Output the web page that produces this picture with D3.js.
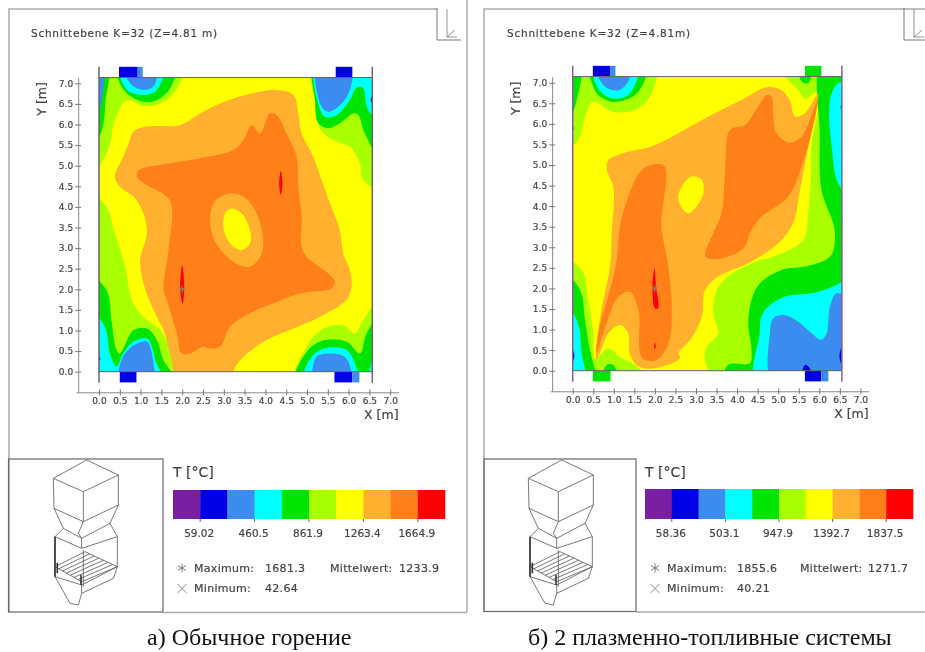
<!DOCTYPE html>
<html><head><meta charset="utf-8">
<script src="https://cdn.jsdelivr.net/npm/d3@7/dist/d3.min.js"></script>
<style>html,body{margin:0;background:#fff}svg{display:block;filter:blur(.65px)}text{font-family:"DejaVu Sans",sans-serif;fill:#444;stroke:#444;stroke-width:.2}</style>
</head><body><svg id="c" width="925" height="652"></svg>
<script>
// Legend: ten temperature bands
const bandColors=["#7b1fa2","#0000e6","#3c8cf0","#00ffff","#00e400","#a8ff00","#ffff00","#ffb02e","#ff8018","#ff0000"];
const PURPLE=0,DARK=1,BLUE=2,CYAN=3,GREEN=4,LIME=5,YELLOW=6,LIGHT=7,ORANGE=8,RED=9;
const xTicks=d3.range(0,7.01,.5), yTicks=d3.range(0,7.01,.5);
const titleA="Schnittebene K=32 (Z=4.81 m)", titleB="Schnittebene K=32 (Z=4.81m)";
const captionA="а) Обычное горение", captionB="б) 2 плазменно-топливные системы";
const legendLabelsA=["59.02","460.5","861.9","1263.4","1664.9"], legendLabelsB=["58.36","503.1","947.9","1392.7","1837.5"];
const statsA=["1681.3","1233.9","42.64"], statsB=["1855.6","1271.7","40.21"];

// Isotherm polygons in metres [x,y] — panel A
const aLime=[
[[0,7.14],[2.03,7.14],[1.83,6.8],[1.47,6.51],[1.07,6.45],[.67,6.59],[.38,6.11],[.22,5.38],[0,4.65]],
[[0,4.41],[.18,4],[.38,3.36],[.63,2.55],[.79,1.74],[1.07,1.33],[1.47,1.01],[1.71,.53],[1.95,0],[0,0]],
[[5.13,7.14],[5.19,6.59],[5.31,5.91],[5.63,5.62],[6.03,5.46],[6.27,5.06],[6.35,4.65],[6.57,4.41],[6.57,7.14]],
[[4.71,0],[4.99,.61],[5.39,1.05],[5.87,1.13],[6.15,.93],[6.35,1.25],[6.57,1.9],[6.57,0]]];
const aGreen=[
[[.42,7.14],[.5,7],[.71,6.72],[1.07,6.55],[1.39,6.59],[1.71,6.88],[1.83,7.14]],
[[0,7.14],[.22,7.14],[.16,6.6],[.08,5.9],[0,5.1]],
[[5.19,7.14],[5.19,6.59],[5.27,6.03],[5.51,5.91],[5.79,6.03],[6.11,6.27],[6.23,6.23],[6.39,5.78],[6.57,4.98],[6.57,7.14]],
[[0,2.39],[.18,1.98],[.3,1.25],[.42,.53],[.5,.44],[.83,1.01],[1.15,1.05],[1.39,.77],[1.55,.28],[1.87,0],[0,0]],
[[4.71,0],[5.03,.53],[5.43,.77],[5.95,.73],[6.27,.44],[6.43,.93],[6.57,1.54],[6.57,0]]];
const aCyan=[
[[0,1.57],[.14,1.09],[.26,.44],[.42,.12],[.58,.44],[.83,.73],[1.15,.81],[1.27,.61],[1.35,.28],[1.55,0],[0,0]],
[[4.91,0],[5.11,.36],[5.43,.57],[5.95,.53],[6.15,.2],[6.23,0]],
[[6.47,0],[6.57,.93],[6.57,0]],
[[.5,7.14],[.67,6.84],[1.07,6.72],[1.39,6.84],[1.55,7.14]],
[[5.23,7.14],[5.27,6.51],[5.43,6.19],[5.71,6.23],[6.03,6.59],[6.19,6.9],[6.35,6.88],[6.47,6.35],[6.57,6.03],[6.57,7.14]]];
const aBlue=[
[[.58,7.14],[.79,6.96],[1.07,6.84],[1.31,6.92],[1.37,7.14]],
[[5.25,7.14],[5.35,6.43],[5.51,6.31],[5.79,6.47],[6.03,6.84],[6.05,7.14]],
[[.5,0],[.54,.28],[.79,.61],[1.15,.73],[1.27,.44],[1.27,0]],
[[5.19,0],[5.23,.36],[5.63,.44],[5.95,.32],[6.03,0]],
[[0,7.14],[.05,7.14],[.05,6.5],[0,5.7]]];
const aDark=[[[0,.7],[.03,.3],[0,.1]],[[6.57,6.9],[6.53,6.6],[6.57,6.3]]];
const aLight=[[[.83,5.83],[1.15,5.95],[1.95,5.99],[2.43,6.27],[2.91,6.51],[3.55,6.72],[4.27,6.84],[4.67,6.72],[4.79,6.27],[4.87,5.78],[5.15,5.22],[5.35,4.65],[5.55,4.09],[5.79,3.44],[5.87,2.87],[6.03,2.47],[6.07,2.06],[5.95,1.74],[5.31,1.33],[4.67,1.05],[4.03,.77],[3.39,.28],[2.99,0],[1.95,0],[1.71,.44],[1.55,1.01],[1.31,1.5],[1.07,2.14],[.99,2.71],[1.15,3.36],[1.07,3.84],[.83,4.25],[.5,4.49],[.38,4.73],[.58,5.22],[.71,5.54]]];
const aOrange=[[[.95,4.89],[1.47,5.02],[2.43,5.18],[3.23,5.38],[3.47,5.62],[3.67,5.99],[3.87,5.78],[4.11,6.27],[4.27,6.23],[4.51,5.78],[4.75,5.22],[4.79,4.49],[4.87,3.76],[4.87,3.03],[4.99,2.79],[5.55,2.35],[5.67,2.18],[5.59,2.02],[4.83,1.9],[4.19,1.66],[3.55,1.38],[3.15,1.09],[2.91,.61],[2.63,.57],[2.51,.61],[2.19,.44],[1.99,.44],[1.87,.93],[1.63,1.74],[1.55,1.98],[1.67,2.95],[1.75,4],[1.63,4.25],[1.15,4.53],[.91,4.73]]];
const aInnerLight=[[[3.15,4.33],[3.47,4.25],[3.75,3.92],[3.93,3.36],[3.91,2.87],[3.63,2.55],[3.23,2.67],[2.87,3.03],[2.68,3.52],[2.75,4.09]]];
const aInnerYellow=[[[3.19,3.96],[3.43,3.84],[3.63,3.44],[3.63,3.11],[3.43,2.95],[3.19,3.07],[3,3.44],[3.03,3.84]]];
const aRed=[[[2,2.59],[2.05,2.06],[2.01,1.64],[1.95,2.06]],[[4.37,4.88],[4.41,4.57],[4.37,4.29],[4.33,4.57]]];
const aBurners=[[.48,.93,DARK,1],[.93,1.05,BLUE,1],[5.69,6.09,DARK,1],[.5,.9,DARK,0],[5.66,6.09,DARK,0],[6.09,6.26,BLUE,0]];

// panel B
const bLime=[
[[0,7.15],[2,7.15],[1.92,6.74],[1.52,6.34],[.95,6.3],[.5,6.54],[.3,6.17],[.14,5.61],[0,5.35]],
[[0,2.73],[.22,2.45],[.38,1.72],[.5,.91],[.54,.3],[.87,.54],[1.19,.3],[1.52,.14],[1.84,0],[0,0]],
[[6,6.89],[5.97,6.34],[5.81,5.53],[5.79,4.64],[5.73,3.82],[5.61,3.18],[5.08,2.85],[4.35,2.61],[3.78,2.29],[3.5,1.96],[3.42,1.39],[3.54,.91],[3.26,.58],[3.22,.26],[3.54,0],[6.55,0],[6.55,7.15],[6.05,7.15]],
[[4.96,7.15],[5.81,7.15],[6,7.03],[6,6.89],[5.65,6.62],[5.49,6.82],[5.28,7.03]]];
const bGreen=[
[[6.05,7.15],[6.01,5.77],[6.04,4.47],[6.18,3.99],[6.34,3.58],[6.38,3.18],[6.26,2.77],[5.65,2.53],[5.08,2.45],[4.55,2.12],[4.35,1.72],[4.27,1.15],[4.35,.5],[4.31,.18],[3.78,.14],[3.7,0],[6.55,0],[6.55,7.15]],
[[5.49,7.15],[5.81,7.15],[5.73,6.99],[5.57,7.03]],
[[.71,0],[.83,.14],[.99,.14],[1.11,0]],
[[.42,7.15],[.5,6.9],[.62,6.7],[.95,6.54],[1.27,6.58],[1.6,6.78],[1.8,7.15]],
[[0,7.15],[.18,7.15],[.1,6.58],[0,5.61]],
[[0,2.45],[.18,1.96],[.3,1.23],[.42,.5],[.5,.18],[.58,0],[0,0]]];
const bCyan=[
[[6.46,6.99],[6.3,6.74],[6.24,6.26],[6.3,5.45],[6.46,4.55],[6.55,4.15],[6.55,6.99]],
[[4.47,0],[4.55,.91],[4.59,1.31],[4.76,1.56],[5.16,1.8],[5.81,1.88],[6.22,2],[6.55,2.2],[6.55,0]],
[[.5,7.15],[.62,6.86],[.95,6.62],[1.35,6.7],[1.6,7.15]],
[[0,1.72],[.1,1.23],[.22,.42],[.3,0],[0,0]]];
const bBlue=[
[[.54,7.15],[.79,6.9],[1.11,6.82],[1.35,7.03],[1.39,7.15]],
[[4.88,0],[4.8,.91],[4.88,1.27],[5.16,1.35],[5.49,1.19],[5.81,.91],[6.05,.75],[6.18,.91],[6.26,1.56],[6.42,1.88],[6.55,1.64],[6.55,0]]];
const bDark=[[[6.55,1.1],[6.49,.34],[6.55,0]],[[5.57,0],[5.65,.14],[5.77,.06],[5.81,0]],[[0,.8],[.04,.4],[0,0]],[[6.55,6.8],[6.52,6.4],[6.55,6.1]],[[0,6.3],[.02,5.9],[0,5.5]]];
const bLight=[[[.87,5.12],[1.27,5.3],[1.92,5.45],[2.57,5.77],[3.38,6.22],[4.11,6.58],[4.72,6.89],[5.08,6.82],[5.28,6.58],[5.41,6.18],[5.65,6.26],[5.97,6.74],[5.89,6.26],[5.73,5.45],[5.53,4.39],[5.36,3.58],[5,3.1],[4.27,2.61],[3.54,2.29],[3.22,1.96],[3.14,1.31],[2.89,.79],[2.57,.42],[2.61,.3],[2,.06],[1.6,.1],[1.39,.42],[1.35,.91],[1.15,1.11],[.87,.91],[.58,.26],[.58,.58],[.7,1.47],[.91,2.53],[.95,3.34],[.99,4.47],[.83,4.88]]];
const bOrange=[
[[.58,.42],[.79,1.07],[1.11,1.8],[1.39,1.92],[1.6,1.47],[1.64,.42],[1.76,.26],[2.04,.26],[2.33,.66],[2.41,1.31],[2.33,2.53],[2.16,3.5],[2.24,4.96],[2,5.02],[1.68,4.88],[1.35,4.23],[1.15,3.5],[1.07,2.69],[.95,2.12],[.79,1.56],[.62,.91]],
[[4.72,6.7],[4.84,6.66],[4.88,6.18],[4.96,5.77],[5.28,5.54],[5.57,5.69],[5.96,6.58],[5.81,5.77],[5.57,4.96],[5.24,4.23],[4.59,3.74],[4.35,3.42],[4.15,2.97],[3.62,2.73],[3.23,2.77],[3.42,3.34],[3.62,3.82],[3.7,4.72],[3.78,5.77],[3.87,5.89],[4.19,5.97],[4.51,6.42]]];
const bInnerYellow=[[[2.89,4.72],[3.14,4.64],[3.18,4.31],[3.01,3.99],[2.81,3.82],[2.57,4.15],[2.65,4.47]]];
const bRed=[[[1.99,2.49],[2.03,2.04],[2.08,1.52],[2,1.52],[1.94,2.04]],[[2,.68],[2.02,.6],[2,.52],[1.98,.6]]];
const bBurners=[[.49,.92,DARK,1],[.92,1.04,BLUE,1],[5.65,6.05,GREEN,1],[.49,.92,GREEN,0],[5.65,6.05,DARK,0],[6.05,6.22,BLUE,0]];

// furnace wire drawing, abstract unit outline
const furnaceEdges=[
[[160,145],[260,90],[355,135],[250,185],[160,145]],
[[160,145],[162,235],[250,275],[355,225],[355,135]],[[250,185],[250,275]],
[[162,235],[190,295],[165,320],[165,440]],[[355,225],[330,280],[352,320],[352,410]],
[[190,295],[245,325],[330,280]],[[250,275],[235,310],[245,325],[245,355]],
[[165,320],[245,355],[352,320]],[[250,360],[250,470]],
[[165,410],[255,365],[352,410],[245,455],[165,410]],
[[165,440],[245,465],[352,410]],
[[165,440],[210,520],[235,525],[245,490],[340,445],[352,410]],[[245,465],[245,490]]];
const furnaceHeavy=[[[165,320],[165,440]],[[172,398],[172,430]],[[243,435],[243,465]]];
const grateA=[[165,410],[255,365]], grateB=[[245,455],[352,410]];

const svg=d3.select("#c");
const line=d3.line().curve(d3.curveCatmullRomClosed.alpha(.5));
let clipN=0;

function panel(o){
  const g=svg.append("g");
  const x=d3.scaleLinear().domain([-.55,7.2]).range([o.x0-.55*o.ppx,o.x0+7.2*o.ppx]);
  const y=d3.scaleLinear().domain([-.5,o.ymax]).range([o.y0+.5*o.ppy,o.y0-o.ymax*o.ppy]);
  // frames
  const fr=g.append("g").attr("fill","none").attr("stroke","#aaa");
  fr.append("path").attr("d",o.frame).attr("stroke-width",1.5);
  fr.append("rect").attr("x",o.inset[0]).attr("y",o.inset[1]).attr("width",o.inset[2]).attr("height",o.inset[3]).attr("stroke","#666").attr("stroke-width",1.2);
  fr.append("path").attr("d",`M${o.inset[0]+o.inset[2]},${o.inset[1]+o.inset[3]+.5}H${o.frameEnd}`).attr("stroke","#aaa").attr("stroke-width",1.5);
  // corner icon
  const ci=g.append("g").attr("transform",`translate(${o.icon},0)`).attr("fill","none").attr("stroke","#777");
  ci.append("path").attr("d","M0,8V40H24");
  ci.append("path").attr("d","M10,9V37L18,30M10,37H20").attr("stroke-width",.8);
  // title
  g.append("text").attr("x",o.titleX).attr("y",37).attr("font-size",10.5).attr("textLength",o.titleW).text(o.title);
  // field
  const xm=o.xmax,ym=o.ymax;
  const id="clip"+(clipN++);
  g.append("clipPath").attr("id",id).append("rect").attr("x",x(0)).attr("y",y(ym)).attr("width",x(xm)-x(0)).attr("height",y(0)-y(ym));
  const f=g.append("g").attr("clip-path",`url(#${id})`);
  f.append("rect").attr("x",x(0)).attr("y",y(ym)).attr("width",x(xm)-x(0)).attr("height",y(0)-y(ym)).attr("fill",bandColors[YELLOW]);
  const push=p=>[p[0]<=0?-.3:p[0]>=xm?xm+.3:p[0], p[1]<=0?-.3:p[1]>=ym?ym+.3:p[1]];
  o.layers.forEach(([band,polys])=>{
    f.selectAll(null).data(polys).join("path")
      .attr("d",d=>line(d.map(push).map(p=>[x(p[0]),y(p[1])])))
      .attr("fill",bandColors[band]);
  });
  // burners
  g.selectAll(null).data(o.burners).join("rect")
    .attr("x",d=>x(d[0])).attr("width",d=>x(d[1])-x(d[0]))
    .attr("y",d=>d[3]?y(ym+.26):y(0)).attr("height",d=>Math.abs(y(ym+.26)-y(ym)))
    .attr("fill",d=>bandColors[d[2]]);
  // outline
  const ol=g.append("g").attr("stroke","#666").attr("fill","none");
  ol.append("path").attr("d",`M${x(0)},${y(ym)}H${x(xm)}M${x(0)},${y(0)}H${x(xm)}`);
  ol.append("path").attr("d",`M${x(0)},${y(ym+.26)}V${y(-.27)}M${x(xm)},${y(ym+.26)}V${y(-.27)}`).attr("stroke",o.sideColor).attr("stroke-width",1.5);
  // centre marker
  mark(g,x(2),y(2),4,"#8a8a6a");
  // axes
  const ax=g.append("g").attr("transform",`translate(0,${y(-.5)})`).call(d3.axisBottom(x).tickValues(xTicks).tickFormat(d3.format(".1f")).tickSizeOuter(0));
  const ay=g.append("g").attr("transform",`translate(${x(-.5)},0)`).call(d3.axisLeft(y).tickValues(yTicks).tickFormat(d3.format(".1f")).tickSizeOuter(0));
  [ax,ay].forEach(a=>{a.select(".domain").attr("stroke","#888");a.selectAll("text").attr("font-size",9).attr("font-family","DejaVu Sans").attr("fill","#444");a.selectAll("line").attr("stroke","#777");});
  ax.selectAll("line").attr("y1",-3).attr("y2",3);
  ax.selectAll("text").attr("y",5);
  ay.selectAll("line").attr("x1",-3).attr("x2",3);
  ay.selectAll("text").attr("x",-5);
  g.append("text").attr("x",x(7.2)).attr("y",y(-.5)+27).attr("text-anchor","end").attr("font-size",12.5).text("X [m]");
  g.append("text").attr("transform",`translate(${x(-.5)-32},${y(6.62)}) rotate(-90)`).attr("text-anchor","middle").attr("font-size",12.5).text("Y [m]");
  // colour bar
  const cb=d3.scaleBand().domain(d3.range(10)).range([o.bar[0],o.bar[1]]);
  g.append("text").attr("x",o.bar[0]).attr("y",477).attr("font-size",14).text("T [°C]");
  g.selectAll(null).data(bandColors).join("rect").attr("x",(d,i)=>cb(i)).attr("width",cb.bandwidth()+.3).attr("y",o.barY[0]).attr("height",o.barY[1]-o.barY[0]).attr("fill",d=>d);
  g.selectAll(null).data(o.legend).join("line").attr("x1",(d,i)=>cb(2*i+1)).attr("x2",(d,i)=>cb(2*i+1)).attr("y1",o.barY[1]).attr("y2",o.barY[1]+3).attr("stroke","#666");
  g.selectAll(null).data(o.legend).join("text").attr("x",(d,i)=>cb(2*i+1)-1).attr("y",537).attr("text-anchor","middle").attr("font-size",10.5).text(d=>d);
  // statistics
  mark(g,o.st[0],568,4.5,"#777");
  g.append("path").attr("d",d3.line()([[o.st[0]-4.5,584],[o.st[0]+4.5,593]])+d3.line()([[o.st[0]+4.5,584],[o.st[0]-4.5,593]])).attr("stroke","#888").attr("fill","none");
  const sy=[572,572,592];
  [["Maximum:",o.st[1],sy[0]],["Mittelwert:",o.st[3],sy[1]],["Minimum:",o.st[1],sy[2]],[o.stats[0],o.st[2],sy[0]],[o.stats[1],o.st[4],sy[1]],[o.stats[2],o.st[2],sy[2]]]
   .forEach(t=>g.append("text").attr("x",t[1]).attr("y",t[2]).attr("font-size",11).attr("letter-spacing",.3).text(t[0]));
  // furnace
  const fx=d3.scaleLinear().domain([0,460]).range([o.fx,o.fx+460/3]), fy=d3.scaleLinear().domain([0,222*3]).range([430,652]);
  const fl=d3.line().x(p=>fx(p[0])).y(p=>fy(p[1]));
  const fg=g.append("g").attr("fill","none").attr("stroke","#555").attr("stroke-width",.8);
  fg.selectAll(null).data(furnaceEdges).join("path").attr("d",fl);
  const mix=(a,b,t)=>[a[0]+(b[0]-a[0])*t,a[1]+(b[1]-a[1])*t];
  d3.range(1,7).forEach(i=>{const t=i/7;fg.append("path").attr("d",fl([mix(grateA[0],grateB[0],t),mix(grateA[1],grateB[1],t)]));});
  fg.selectAll(null).data(furnaceHeavy).join("path").attr("d",fl).attr("stroke-width",1.6).attr("stroke","#333");
  // caption
  g.append("text").attr("x",o.capX).attr("y",645).attr("font-size",24).style("font-family","'Liberation Serif',serif").style("fill","#111").style("stroke","none").text(o.caption);
}
function mark(g,cx,cy,r,c){
  const s=d3.range(3).map(i=>{const a=i*Math.PI/3+Math.PI/2;return `M${cx+r*Math.cos(a)},${cy+r*Math.sin(a)}L${cx-r*Math.cos(a)},${cy-r*Math.sin(a)}`;}).join("");
  g.append("path").attr("d",s).attr("stroke",c).attr("fill","none");
}
panel({x0:99,ppx:41.6,y0:371.7,ppy:41.2,xmax:6.57,ymax:7.14,sideColor:"#666",
 frame:"M9,612V9H437M467,0V612",frameEnd:467,inset:[8.5,459,154.5,153],icon:437,
 title:titleA,titleX:31,titleW:186,burners:aBurners,
 layers:[[LIME,aLime],[GREEN,aGreen],[CYAN,aCyan],[BLUE,aBlue],[DARK,aDark],[LIGHT,aLight],[ORANGE,aOrange],[LIGHT,aInnerLight],[YELLOW,aInnerYellow],[RED,aRed]],
 bar:[173,445],barY:[490,519],legend:legendLabelsA,stats:statsA,st:[182,194,265,330,399],fx:0,caption:captionA,capX:147});
panel({x0:572.7,ppx:41.1,y0:370.7,ppy:41.14,xmax:6.55,ymax:7.15,sideColor:"#8a5a9a",
 frame:"M484,612V9H925",frameEnd:925,inset:[484,459,152,152.5],icon:904,
 title:titleB,titleX:507,titleW:183,burners:bBurners,
 layers:[[LIME,bLime],[GREEN,bGreen],[CYAN,bCyan],[BLUE,bBlue],[DARK,bDark],[LIGHT,bLight],[ORANGE,bOrange],[YELLOW,bInnerYellow],[RED,bRed]],
 bar:[645,913],barY:[489,519],legend:legendLabelsB,stats:statsB,st:[655,667,737,800,868],fx:475,caption:captionB,capX:528});
</script></body></html>
